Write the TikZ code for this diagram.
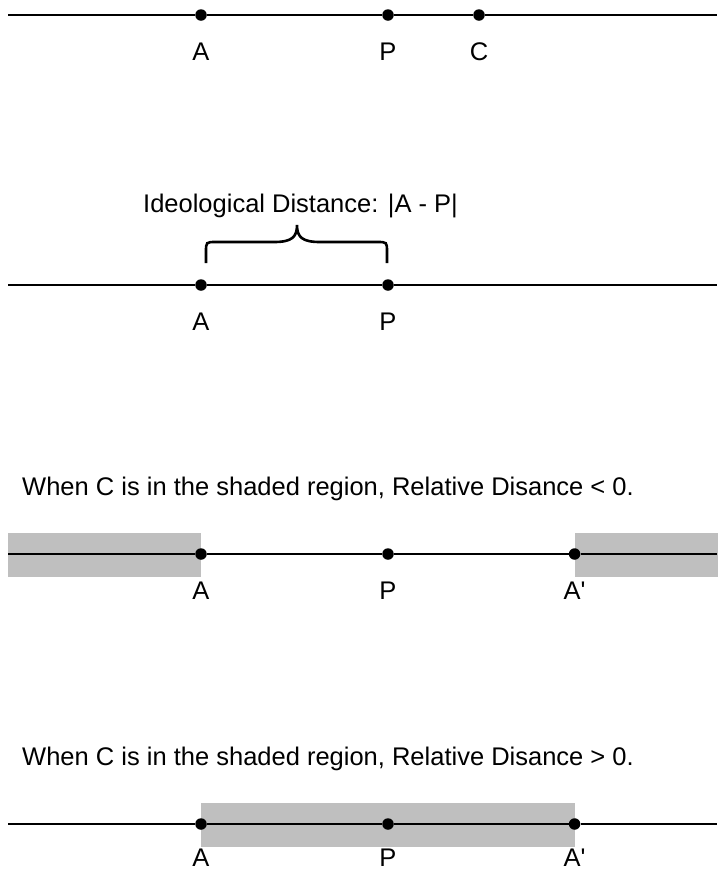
\documentclass[tikz,border=0pt]{standalone}
\usepackage{fontspec}
\setmainfont{Liberation Sans}
\usepackage{tikz}
\usetikzlibrary{positioning}

\begin{document}
\begin{tikzpicture}[x=1pt,y=-1pt,
		pt/.style={circle,fill=black,inner sep=0pt,minimum size=11.5pt},
		lbl/.style={anchor=base,inner sep=0pt,font=\fontsize{25.5}{30}\selectfont},
		txt/.style={anchor=base west,inner sep=0pt,font=\fontsize{25.5}{30}\selectfont},
		axis/.style={line width=2.3pt},
		shade/.style={fill=black!25}]
			
			\useasboundingbox (0,0) rectangle (718,871);
			
			% shaded regions
			\fill[shade] (8,533) rectangle (201,577);
			\fill[shade] (574.6,533) rectangle (718,577);
			\fill[shade] (201,803) rectangle (574.6,847);
			
			% first line: A, P, C
			\coordinate (l1) at (8,15);
			\coordinate (r1) at (717,15);
			\node[pt] (a1) at (201,15) {};
			\node[pt] (p1) at (388,15) {};
			\node[pt] (c1) at (479,15) {};
			\draw[axis] (l1) -- (a1) -- (p1) -- (c1) -- (r1);
			\node[lbl] (la1) at (201,60) {A};
			\node[lbl] (lp1) at (388,60) {P};
			\node[lbl] (lc1) at (479,60) {C};
			
			% second line: distance
			\coordinate (l2) at (8,285);
			\coordinate (r2) at (717,285);
			\node[pt] (a2) at (201,285) {};
			\node[pt] (p2) at (388,285) {};
			\draw[axis] (l2) -- (a2) -- (p2) -- (r2);
			\node[lbl] (la2) at (201,330) {A};
			\node[lbl] (lp2) at (388,330) {P};
			\coordinate (bl) at (206,263);
			\coordinate (bt) at (297,225);
			\coordinate (br) at (387,263);
			\draw[line width=2.6pt] (bl) -- (206,252) .. controls (206,242) .. (216,242) -- (274,242)
				.. controls (292,242) and (297,237) .. (bt)
				.. controls (297,237) and (302,242) .. (320,242) -- (377,242)
				.. controls (387,242) .. (387,252) -- (br);
			\node[txt] (dist) at (143,212.7) {Ideological Distance: |A - P|};
			
			% third line
			\node[txt] (neg) at (22,495) {When C is in the shaded region, Relative Disance < 0.};
			\coordinate (l3) at (8,554);
			\coordinate (r3) at (717,554);
			\node[pt] (a3) at (201,554) {};
			\node[pt] (p3) at (388,554) {};
			\node[pt] (q3) at (574.6,554) {};
			\draw[axis] (l3) -- (a3) -- (p3) -- (q3) -- (r3);
			\node[lbl] (la3) at (201,599) {A};
			\node[lbl] (lp3) at (388,599) {P};
			\node[lbl] (lq3) at (574.6,599) {A\textquotesingle};
			
			% fourth line
			\node[txt] (pos) at (22,765) {When C is in the shaded region, Relative Disance > 0.};
			\coordinate (l4) at (8,824);
			\coordinate (r4) at (717,824);
			\node[pt] (a4) at (201,824) {};
			\node[pt] (p4) at (388,824) {};
			\node[pt] (q4) at (574.6,824) {};
			\draw[axis] (l4) -- (a4) -- (p4) -- (q4) -- (r4);
			\node[lbl] (la4) at (201,866) {A};
			\node[lbl] (lp4) at (388,866) {P};
			\node[lbl] (lq4) at (574.6,866) {A\textquotesingle};
			
		\end{tikzpicture}
\end{document}
